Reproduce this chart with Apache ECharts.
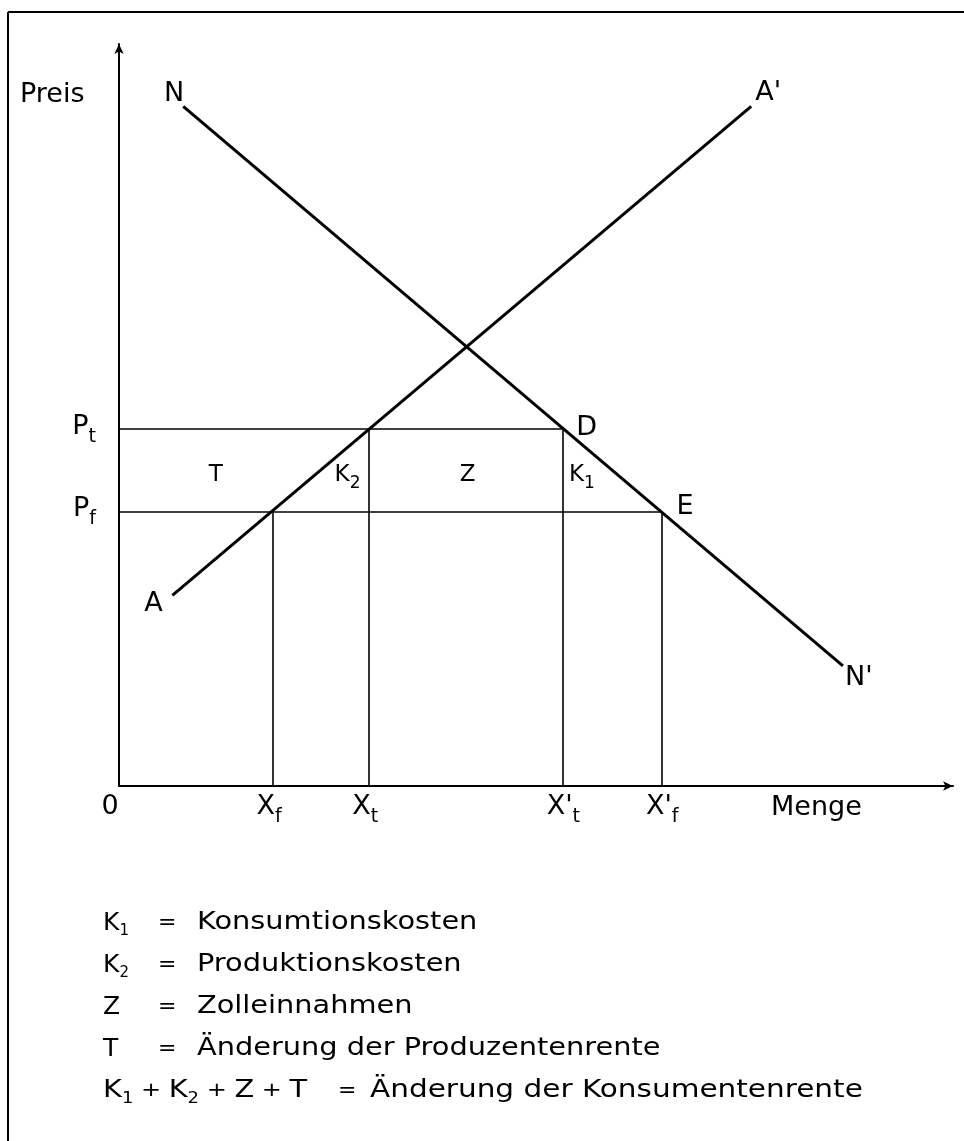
<!DOCTYPE html>
<html>
<head>
<meta charset="utf-8">
<title>Zoll - Wohlfahrtseffekte</title>
<script src="https://cdn.jsdelivr.net/npm/echarts@6/dist/echarts.min.js"></script>
<style>
  html, body { margin: 0; padding: 0; background: #fff; }
  #chart { width: 964px; height: 1141px; }
</style>
</head>
<body>
<div id="chart"></div>
<script>
// Nachfragekurve N -> N' und Angebotskurve A -> A' (Endpunkte)
var demand = [[7.7, 91.6], [86.8, 16.2]];
var supply = [[6.4, 25.7], [75.8, 91.6]];
// Preise: mit Zoll (Pt), Freihandel (Pf)
var prices = [48.1, 37.0];
var priceLabels = ['P{s|t}', 'P{s|f}'];
// Mengen: Xf, Xt, X't, X'f
var quantities = [18.4, 29.9, 53.2, 65.1];
var quantityLabels = ['X{s|f}', 'X{s|t}', "X'{s|t}", "X'{s|f}"];
// Flaechen zwischen Pf und Pt
var areaLabels = ['T', 'K{s|2}', 'Z', 'K{s|1}'];
// Legende
var legendSymbols = ['K{s|1}', 'K{s|2}', 'Z', 'T', 'K{s|1}{p| + }K{s|2}{p| + }Z{p| + }T'];
var legendTexts = ['Konsumtionskosten', 'Produktionskosten', 'Zolleinnahmen',
                   'Änderung der Produzentenrente', 'Änderung der Konsumentenrente'];

var FONT = 'DejaVu Sans';
var chart = echarts.init(document.getElementById('chart'));

// Hilfslinien: Preise waagerecht bis zur Nachfragekurve, Mengen senkrecht bis zum Preis
var guides = [
  [[0, prices[0]], [quantities[2], prices[0]]],
  [[0, prices[1]], [quantities[3], prices[1]]],
  [[quantities[0], 0], [quantities[0], prices[1]]],
  [[quantities[1], 0], [quantities[1], prices[0]]],
  [[quantities[2], 0], [quantities[2], prices[0]]],
  [[quantities[3], 0], [quantities[3], prices[1]]]
];

function subRich(size, pad) {
  return {
    s: { fontSize: size, fontFamily: FONT, color: '#000', fill: '#000', padding: [pad, 0, 0, 0] },
    p: { fontSize: 20, fontFamily: FONT, color: '#000', fill: '#000' }
  };
}

function lbl(value, text, align, offset, size) {
  size = size || 27;
  return {
    value: value,
    label: {
      show: true, position: 'inside', formatter: text, opacity: 1,
      align: align, verticalAlign: 'middle', offset: offset,
      fontSize: size, fontFamily: FONT, color: '#000',
      rich: subRich(Math.round(size * 0.72), Math.round(size * 0.75))
    }
  };
}

// Beschriftungen an den Punkten
var pointLabels = [
  lbl(demand[0], 'N', 'center', [-9, -12]),
  lbl(demand[1], "N'", 'center', [16, 12]),
  lbl(supply[0], 'A', 'center', [-19, 9]),
  lbl(supply[1], "A'", 'center', [17, -13]),
  lbl([quantities[2], prices[0]], 'D', 'center', [24, -1]),
  lbl([quantities[3], prices[1]], 'E', 'center', [23, -4]),
  lbl([0, 0], '0', 'center', [-9, 21])
];
prices.forEach(function (p, i) {
  pointLabels.push(lbl([0, p], priceLabels[i], 'right', [-23, -2]));
});
quantities.forEach(function (q, i) {
  pointLabels.push(lbl([q, 0], quantityLabels[i], 'left', [-16, 21]));
});
var areaLabelX = [11.6, 27.4, 41.8, 55.5];
var midPrice = (prices[0] + prices[1]) / 2;
areaLabels.forEach(function (t, i) {
  pointLabels.push(lbl([areaLabelX[i], midPrice], t, 'center', [0, 5], 23));
});

// Legende unter dem Diagramm
var legendGraphics = [];
legendSymbols.forEach(function (sym, i) {
  var y = 923 + i * 42;
  var last = i === legendSymbols.length - 1;
  var cols = last ? [103, 338, 370] : [103, 158, 197];
  var scales = last ? [1.2, 1, 1.23] : [1, 1, 1.2];
  var sizes = last ? [24, 22, 24] : [25, 22, 24];
  var parts = [sym, '=', legendTexts[i]];
  parts.forEach(function (t, j) {
    legendGraphics.push({
      type: 'text', x: cols[j], y: y, scaleX: scales[j],
      style: {
        text: t, fontSize: sizes[j], fontFamily: FONT, fill: '#000',
        verticalAlign: 'middle', align: 'left',
        rich: subRich(15, 16)
      }
    });
  });
});

var axisCommon = {
  type: 'value', min: 0, max: 100,
  axisLine: {
    show: true, onZero: false,
    symbol: ['none', 'arrow'], symbolSize: [7, 10], symbolOffset: [0, 0],
    lineStyle: { color: '#000', width: 2 }
  },
  axisTick: { show: false },
  axisLabel: { show: false },
  splitLine: { show: false }
};

var option = {
  animation: false,
  backgroundColor: '#fff',
  grid: { left: 119, right: 11, top: 44, bottom: 355 },
  xAxis: axisCommon,
  yAxis: axisCommon,
  graphic: [
    { type: 'line', shape: { x1: 8, y1: 12, x2: 964, y2: 12 }, style: { stroke: '#000', lineWidth: 2 } },
    { type: 'line', shape: { x1: 8, y1: 12, x2: 8, y2: 1141 }, style: { stroke: '#000', lineWidth: 2 } },
    { type: 'text', left: 20, top: 81, style: { text: 'Preis', fontSize: 27, fontFamily: FONT, fill: '#000' } },
    { type: 'text', left: 771, top: 794, style: { text: 'Menge', fontSize: 27, fontFamily: FONT, fill: '#000' } }
  ].concat(legendGraphics),
  series: [
    {
      type: 'lines', coordinateSystem: 'cartesian2d', polyline: false, silent: true,
      lineStyle: { color: '#000', width: 1.6, opacity: 1 },
      data: guides.map(function (g) { return { coords: g }; })
    },
    {
      type: 'line', data: demand, symbol: 'none', silent: true,
      lineStyle: { color: '#000', width: 3 }
    },
    {
      type: 'line', data: supply, symbol: 'none', silent: true,
      lineStyle: { color: '#000', width: 3 }
    },
    {
      type: 'scatter', data: pointLabels, symbolSize: 1, silent: true,
      itemStyle: { color: 'rgba(0,0,0,0)', opacity: 1 }
    }
  ]
};
chart.setOption(option);
</script>
</body>
</html>
